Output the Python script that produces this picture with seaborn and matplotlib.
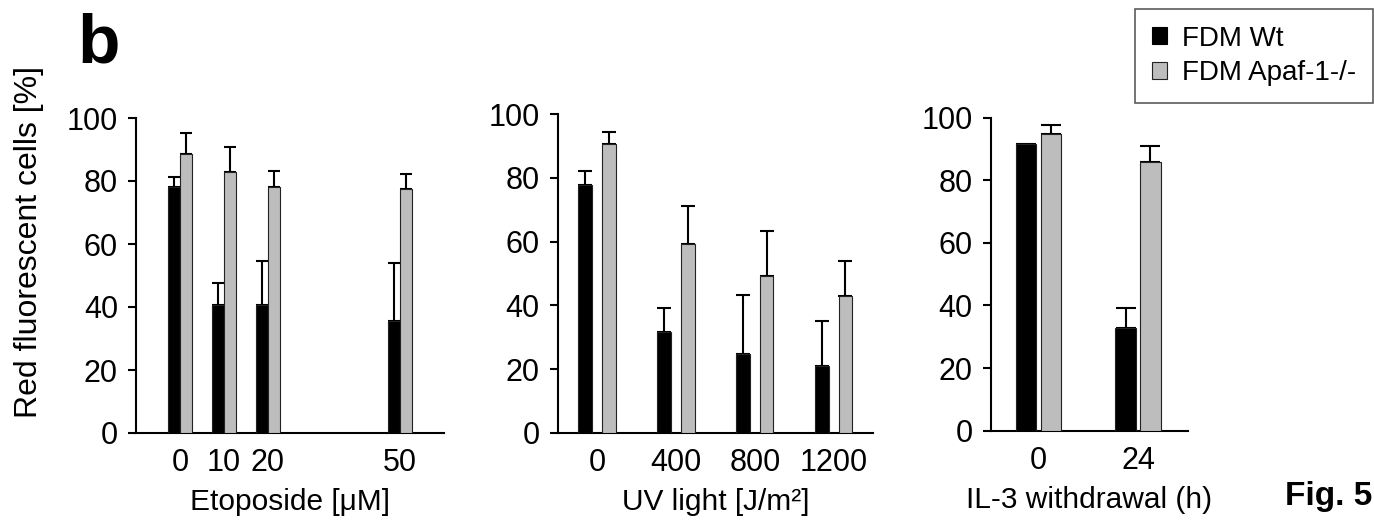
import numpy as np
import pandas as pd
import matplotlib
matplotlib.use("Agg")
import matplotlib.pyplot as plt
import seaborn as sns
from matplotlib.patches import Patch

sns.set_theme(style="ticks")
plt.rcParams['font.family'] = ['Liberation Sans', 'DejaVu Sans']
plt.rcParams['text.color'] = 'black'
plt.rcParams['axes.labelcolor'] = 'black'
plt.rcParams['xtick.color'] = 'black'
plt.rcParams['ytick.color'] = 'black'

groups = ["FDM Wt", "FDM Apaf-1-/-"]
colors = ["#000000", "#bdbdbd"]

# Etoposide panel
eto_doses = [0, 10, 20, 50]
eto_wt = [78.0, 40.6, 40.6, 35.7]
eto_wt_err = [3.3, 7.0, 13.9, 18.3]
eto_ko = [88.6, 83.0, 78.1, 77.4]
eto_ko_err = [6.7, 7.9, 5.2, 4.8]

# UV panel
uv_doses = [0, 400, 800, 1200]
uv_wt = [77.9, 31.6, 24.8, 20.8]
uv_wt_err = [4.2, 7.5, 18.6, 14.4]
uv_ko = [90.6, 59.2, 49.2, 43.0]
uv_ko_err = [3.9, 12.1, 14.3, 10.9]

# IL-3 withdrawal panel
il3_hours = [0, 24]
il3_wt = [91.7, 32.9]
il3_wt_err = [np.nan, 6.2]
il3_ko = [94.8, 85.8]
il3_ko_err = [2.8, 5.1]

y_ticks = [0, 20, 40, 60, 80, 100]
ylabel = "Red fluorescent cells [%]"

panels = [
    dict(x=eto_doses, wt=eto_wt, wte=eto_wt_err, ko=eto_ko, koe=eto_ko_err,
         xlabel="Etoposide [\u03bcM]", xlim=(-10, 60), width=0.57, gap=0.05, cap=4.3,
         rect=[136, 118, 444, 433]),
    dict(x=uv_doses, wt=uv_wt, wte=uv_wt_err, ko=uv_ko, koe=uv_ko_err,
         xlabel="UV light [J/m\u00b2]", xlim=(-200, 1400), width=0.6, gap=0.42, cap=5.3,
         rect=[557.7, 114.3, 873, 432.7]),
    dict(x=il3_hours, wt=il3_wt, wte=il3_wt_err, ko=il3_ko, koe=il3_ko_err,
         xlabel="IL-3 withdrawal (h)", xlim=(-11.6, 36.1), width=0.5, gap=0.18, cap=7.0,
         rect=[990.7, 117.7, 1188, 430.7]),
]

W, H = 1374, 523
fig = plt.figure(figsize=(W / 100, H / 100), dpi=100)
fig.patch.set_facecolor("white")

for i, p in enumerate(panels):
    l, t, r, b = p["rect"]
    ax = fig.add_axes([l / W, 1 - b / H, (r - l) / W, (b - t) / H])
    ax.set_facecolor("white")
    df = pd.DataFrame({
        "x": list(p["x"]) * 2,
        "value": list(p["wt"]) + list(p["ko"]),
        "err": list(p["wte"]) + list(p["koe"]),
        "group": [groups[0]] * len(p["x"]) + [groups[1]] * len(p["x"]),
    })
    sns.barplot(data=df, x="x", y="value", hue="group", hue_order=groups,
                palette=colors, native_scale=True, width=p["width"], gap=p["gap"],
                errorbar=None, edgecolor="#222222", linewidth=0.8, legend=False,
                ax=ax, zorder=3)
    for cont, g in zip(ax.containers, groups):
        sub = df[df["group"] == g].sort_values("x")
        patches = sorted(cont.patches, key=lambda pt: pt.get_x())
        cx = [pt.get_x() + pt.get_width() / 2 for pt in patches]
        vals = sub["value"].to_numpy()
        errs = sub["err"].to_numpy()
        ax.errorbar(cx, vals, yerr=[np.zeros_like(errs), errs], fmt="none",
                    ecolor="black", elinewidth=1.5, capsize=p["cap"], capthick=1.5,
                    zorder=2)
    ax.set_xlim(*p["xlim"])
    ax.set_ylim(0, 100)
    ax.set_xticks(p["x"])
    ax.set_xticklabels([str(v) for v in p["x"]])
    ax.set_yticks(y_ticks)
    ax.tick_params(axis="y", length=6, width=1.5, pad=7, labelsize=22, colors="black")
    ax.tick_params(axis="x", length=0, pad=11, labelsize=22, colors="black")
    for s in ["top", "right"]:
        ax.spines[s].set_visible(False)
    for s in ["left", "bottom"]:
        ax.spines[s].set_linewidth(1.5)
        ax.spines[s].set_color("black")
    ax.set_xlabel(p["xlabel"], fontsize=21.5, labelpad=7, color="black")
    if i == 0:
        ax.set_ylabel(ylabel, fontsize=23, color="black")
        ax.yaxis.set_label_coords(-0.30, 0.605)
    else:
        ax.set_ylabel("")

handles = [Patch(facecolor=colors[0], edgecolor="black", linewidth=0.8),
           Patch(facecolor=colors[1], edgecolor="#222222", linewidth=0.8)]
leg = fig.legend(handles=handles, labels=groups, loc="upper left",
                 bbox_to_anchor=(1135 / W, 1 - 9 / H), frameon=True, fancybox=False,
                 fontsize=20, handlelength=0.55, handleheight=0.55, handletextpad=0.55,
                 labelspacing=0.3, borderpad=0.6, borderaxespad=0)
leg.get_frame().set_edgecolor("#333333")
leg.get_frame().set_linewidth(1.2)
for txt in leg.get_texts():
    txt.set_color("black")

fig.text(77 / W, 1 - 62 / H, "b", fontsize=50, fontweight="bold", ha="left", va="baseline",
         color="black")
fig.text(1285 / W, 1 - 505 / H, "Fig. 5", fontsize=24, fontweight="bold", ha="left",
         va="baseline", color="black")

fig.savefig("out.png", dpi=100, facecolor="white")
